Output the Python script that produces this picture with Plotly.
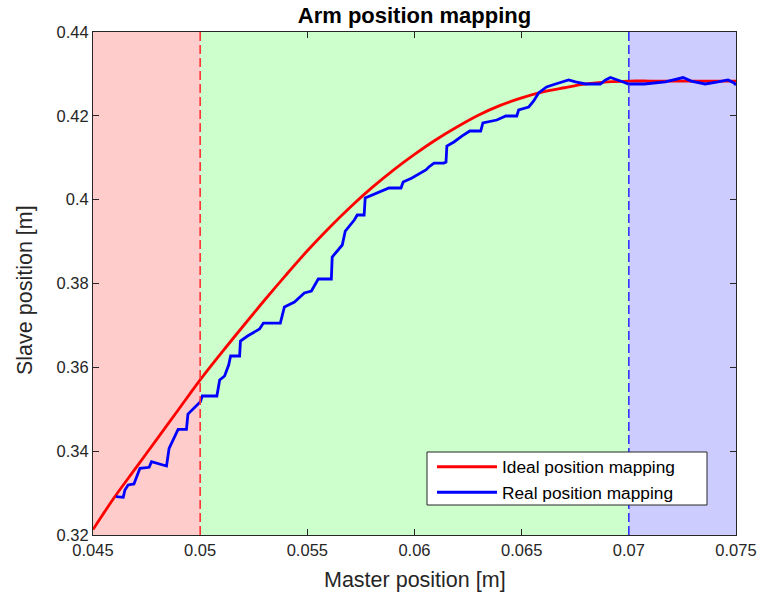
import plotly.graph_objects as go

# Ideal mapping
ideal_x = [0.045, 0.046, 0.047, 0.048, 0.049, 0.050, 0.051, 0.052, 0.053, 0.054,
           0.055, 0.056, 0.057, 0.058, 0.059, 0.060, 0.061, 0.062, 0.063, 0.064,
           0.065, 0.066, 0.067, 0.068, 0.069, 0.070, 0.071, 0.072, 0.073, 0.074, 0.075]
ideal_y = [0.3213, 0.3290, 0.3360, 0.3430, 0.3500, 0.3570, 0.3635, 0.3698, 0.3760, 0.3820,
           0.3878, 0.3932, 0.3982, 0.4028, 0.4070, 0.4108, 0.4143, 0.4174, 0.4202, 0.4225,
           0.4243, 0.4257, 0.4267, 0.4276, 0.4281, 0.4283, 0.4283, 0.4283, 0.4283, 0.4283, 0.4283]

# Real mapping
real_x = [0.04607, 0.04641, 0.04649, 0.04664, 0.04691, 0.04719, 0.04762, 0.04773, 0.04843, 0.04855,
          0.04897, 0.04936, 0.04943, 0.05001, 0.05010, 0.05078, 0.05091, 0.05114, 0.05133, 0.05142,
          0.05184, 0.05188, 0.05221, 0.05277, 0.05295, 0.05374, 0.05393, 0.05440, 0.05486, 0.05519,
          0.05551, 0.05612, 0.05616, 0.05663, 0.05677, 0.05719, 0.05733, 0.05765, 0.05770, 0.05835,
          0.05881, 0.05937, 0.05947, 0.05988, 0.06053, 0.06067, 0.06091, 0.06137, 0.06147, 0.06151,
          0.06184, 0.06221, 0.06258, 0.06309, 0.06319, 0.06384, 0.06426, 0.06477, 0.06486, 0.06533,
          0.06556, 0.06579, 0.06607, 0.06616, 0.06658, 0.06719, 0.06751, 0.06798, 0.06867, 0.06891,
          0.06914, 0.06942, 0.06974, 0.06998, 0.07072, 0.07170, 0.07253, 0.07291, 0.07356, 0.07416,
          0.07463, 0.07491, 0.07500]
real_y = [0.32914, 0.32899, 0.33073, 0.33193, 0.33217, 0.33591, 0.33615, 0.33749, 0.33646, 0.34068,
          0.34521, 0.34521, 0.34886, 0.35180, 0.35316, 0.35316, 0.35698, 0.35793, 0.36055, 0.36270,
          0.36270, 0.36628, 0.36747, 0.36914, 0.37057, 0.37057, 0.37439, 0.37558, 0.37773, 0.37821,
          0.38107, 0.38107, 0.38632, 0.38918, 0.39252, 0.39514, 0.39634, 0.39634, 0.40039, 0.40182,
          0.40278, 0.40278, 0.40421, 0.40517, 0.40708, 0.40779, 0.40874, 0.40874, 0.40898, 0.41280,
          0.41376, 0.41518, 0.41638, 0.41638, 0.41829, 0.41900, 0.41996, 0.41996, 0.42140, 0.42211,
          0.42354, 0.42545, 0.42641, 0.42689, 0.42760, 0.42856, 0.42808, 0.42760, 0.42760, 0.42856,
          0.42914, 0.42856, 0.42808, 0.42760, 0.42760, 0.42808, 0.42914, 0.42830, 0.42760, 0.42808,
          0.42856, 0.42783, 0.42736]

# Region boundaries and colours
region_bounds = [0.045, 0.050, 0.070, 0.075]
region_colors = ["#FFCCCC", "#CCFFCC", "#CCCCFF"]
divider_x = [0.050, 0.070]
divider_colors = ["#FF3333", "#3333FF"]

x_ticks = [0.045, 0.05, 0.055, 0.06, 0.065, 0.07, 0.075]
x_labels = ["0.045", "0.05", "0.055", "0.06", "0.065", "0.07", "0.075"]
y_ticks = [0.32, 0.34, 0.36, 0.38, 0.4, 0.42, 0.44]
y_labels = ["0.32", "0.34", "0.36", "0.38", "0.4", "0.42", "0.44"]

title_text = "Arm position mapping"
x_title = "Master position [m]"
y_title = "Slave position [m]"

FONT = "Liberation Sans, Arial, Helvetica, sans-serif"
W, H = 757, 599
ML, MR, MT, MB = 93, 21, 32, 64
PW, PH = W - ML - MR, H - MT - MB


def px_x(p):
    return (p - ML) / PW


def px_y(p):
    return (H - MB - p) / PH


fig = go.Figure()
fig.add_trace(go.Scatter(x=ideal_x, y=ideal_y, mode="lines", name="Ideal position mapping",
                         line=dict(color="#FF0000", width=2.8), line_shape="spline"))
fig.add_trace(go.Scatter(x=real_x, y=real_y, mode="lines", name="Real position mapping",
                         line=dict(color="#0000FF", width=2.8)))

shapes = []
for i, c in enumerate(region_colors):
    shapes.append(dict(type="rect", xref="x", yref="paper", x0=region_bounds[i], x1=region_bounds[i + 1],
                       y0=0, y1=1, fillcolor=c, line=dict(width=0), layer="below"))
for xv, c in zip(divider_x, divider_colors):
    shapes.append(dict(type="line", xref="x", yref="paper", x0=xv, x1=xv, y0=0, y1=1,
                       line=dict(color=c, width=1.6, dash="9px,4px"), layer="above"))
# legend frame
shapes.append(dict(type="rect", xref="paper", yref="paper", x0=px_x(427), x1=px_x(707),
                   y0=px_y(505), y1=px_y(452), fillcolor="white",
                   line=dict(color="#262626", width=1), layer="above"))

axis_common = dict(showgrid=False, zeroline=False, showline=True, linecolor="#262626", linewidth=1,
                   mirror="allticks", ticks="inside", ticklen=6, tickcolor="#262626", automargin=False,
                   ticklabeloverflow="allow",
                   tickfont=dict(family=FONT, size=16.5, color="#262626"))

annotations = [
    dict(text=x_title, xref="paper", yref="paper", x=0.5, y=px_y(580),
         xanchor="center", yanchor="middle", showarrow=False,
         font=dict(family=FONT, size=21.5, color="#262626")),
    dict(text=y_title, xref="paper", yref="paper", x=px_x(25), y=px_y(290),
         xanchor="center", yanchor="middle", showarrow=False, textangle=-90,
         font=dict(family=FONT, size=21.5, color="#262626")),
]

fig.update_layout(
    width=W, height=H,
    margin=dict(l=ML, r=MR, t=MT, b=MB),
    paper_bgcolor="white", plot_bgcolor="white",
    shapes=shapes,
    annotations=annotations,
    title=dict(text="<b>" + title_text + "</b>", x=0.5, xref="paper", y=1 - 15 / H, yref="container",
               yanchor="middle", xanchor="center", font=dict(family=FONT, size=22, color="black")),
    xaxis=dict(range=[0.045, 0.075], tickvals=x_ticks, ticktext=x_labels, **axis_common),
    yaxis=dict(range=[0.32, 0.44], tickvals=y_ticks, ticktext=y_labels, **axis_common),
    legend=dict(x=px_x(432), y=px_y(449), xanchor="left", yanchor="top",
                bgcolor="rgba(0,0,0,0)", borderwidth=0, itemwidth=60,
                font=dict(family=FONT, size=17.3, color="black"), tracegroupgap=0),
    showlegend=True,
)

fig.write_html("out.html")
